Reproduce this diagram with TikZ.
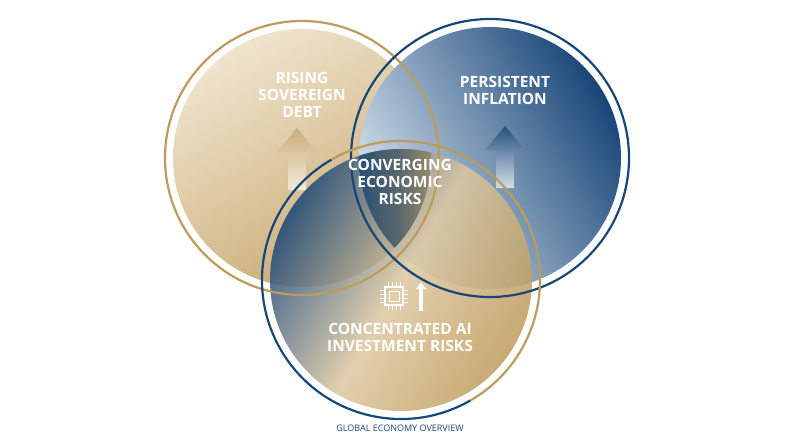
\documentclass[tikz,border=0pt]{standalone}
\usepackage{fontspec}
\setmainfont{Open Sans}
\usetikzlibrary{arrows.meta,positioning}
\definecolor{gold}{RGB}{190,155,90}
\definecolor{lgold}{RGB}{240,228,205}
\definecolor{navy}{RGB}{25,70,120}
\definecolor{lblue}{RGB}{215,228,238}
\tikzset{
  ring/.style={line width=2.2pt},
  lbl/.style={text=white,font=\bfseries\fontsize{15.5}{17}\selectfont,align=center}
}
\newcommand{\uparr}[2]{% bottom point, top point
  -- ++(-9,0) -- ++(0,-38) -- ++(-11,0) -- ++(20,-24) -- ++(20,24) -- ++(-11,0) -- ++(0,38) -- cycle}
\begin{document}
\begin{tikzpicture}[x=1pt,y=-1pt]
  \useasboundingbox (0,0) rectangle (800,447);
  % centres
  \coordinate (cl) at (302,158);
  \coordinate (cr) at (490,158);
  \coordinate (cb) at (401,280);
  %%%%%%%%%%%%%%%%%%%%%%%%%%%%%%%%%%%%%%%
  \shade[left color=lgold,right color=gold!85,shading angle=30] (cl) circle(129);
  \shade[left color=navy,right color=lblue,shading angle=-60] (cr) circle(131);
  \shade[top color=gold!85,bottom color=lgold!50,opacity=.85] (297,190) \uparr{}{};
  \shade[top color=navy,bottom color=lblue!70,opacity=.85] (505,188) \uparr{}{};
  \shade[left color=navy,right color=gold,middle color=lgold!60!gold,shading angle=60,opacity=.85] (cb) circle(131);
  \begin{scope}
    \clip (cl) circle(129);
    \clip (cr) circle(131);
    \clip (cb) circle(131);
    \shade[left color=navy,right color=gold!90,middle color=navy!60!gold] (345,120) rectangle (455,270);
  \end{scope}
  % rings
  \draw[ring,gold] (cl) circle(137);
  \draw[ring,navy] (cr) circle(139);
  \draw[ring,navy] (cb) ++(60:139) arc(60:240:139);
  \draw[ring,gold] (cb) ++(240:139) arc(240:420:139);
  %%%%%%%%%%%%%%%%%%%%%%%%%%%%%%%%%%%%%%%
  \node (debt) [lbl] at (302,95) {RISING\\SOVEREIGN\\DEBT};
  \node (infl) [lbl] at (505,90) {PERSISTENT\\INFLATION};
  \node (conv) [lbl] at (400,182) {CONVERGING\\ECONOMIC\\RISKS};
  \node (ai) [lbl] at (400,337) {CONCENTRATED AI\\INVESTMENT RISKS};
  % chip icon
  \node (chip) [draw=white,line width=1.2pt,minimum size=18pt,inner sep=0pt] at (394,296) {};
  \node [draw=white,line width=1pt,minimum size=10pt,inner sep=0pt] at (chip) {};
  \foreach \i in {-6,-2,2,6} {
    \draw[white,line width=.8pt] ([xshift=\i pt]chip.north) -- ++(0,-4);
    \draw[white,line width=.8pt] ([xshift=\i pt]chip.south) -- ++(0,4);
    \draw[white,line width=.8pt] ([yshift=\i pt]chip.west) -- ++(-4,0);
    \draw[white,line width=.8pt] ([yshift=\i pt]chip.east) -- ++(4,0);
  }
  \coordinate (a0) at (421,311);
  \coordinate (a1) at (421,282);
  \draw[white,line width=3.5pt,-{Triangle[width=10pt,length=7pt]}] (a0) -- (a1);
  \node (title) [text=navy,font=\fontsize{9}{10}\selectfont] at (400,428) {GLOBAL ECONOMY OVERVIEW};
\end{tikzpicture}
\end{document}
